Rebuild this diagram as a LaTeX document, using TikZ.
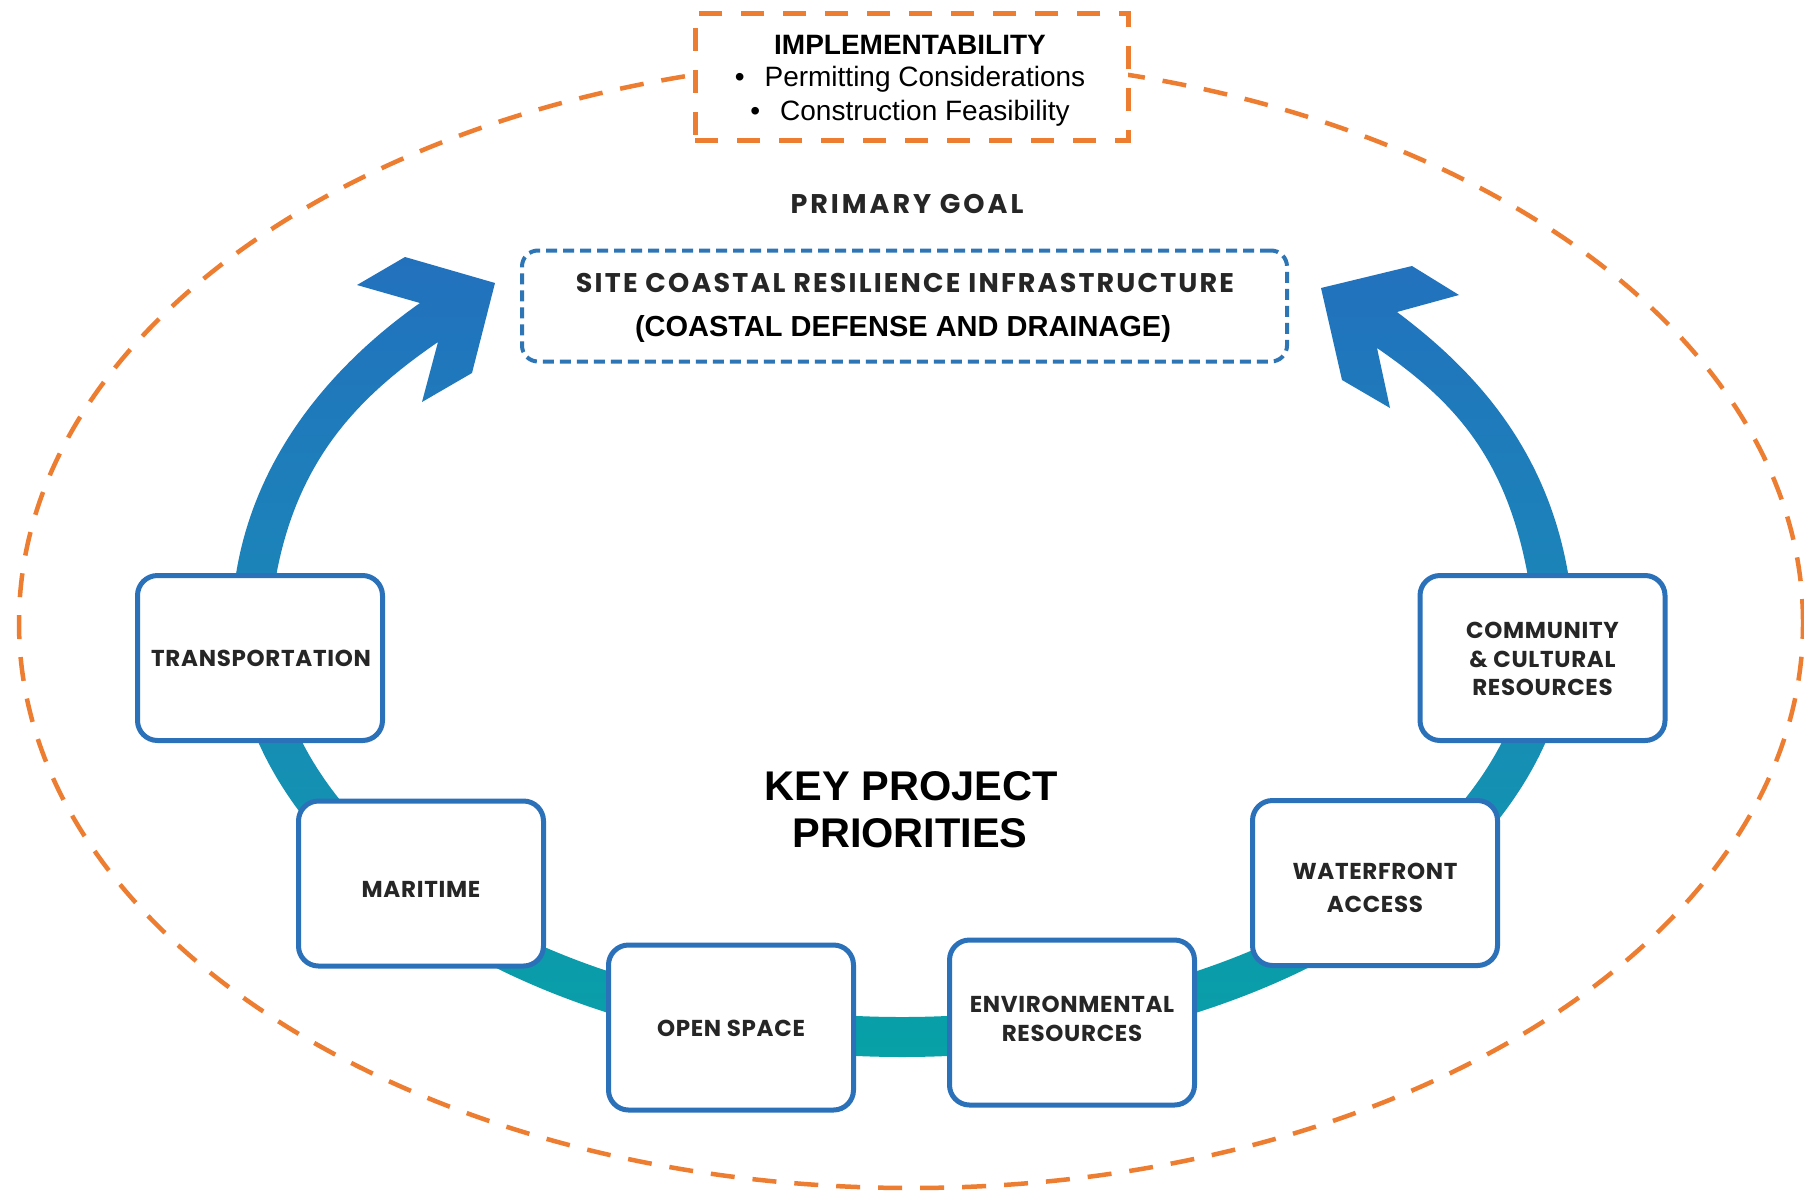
\documentclass[tikz,border=0pt]{standalone}
\usepackage{fontspec}
\setmainfont{Liberation Sans}
\newfontfamily\geo{Poppins}[LetterSpace=3]
\newfontfamily\geogoal{Poppins}[LetterSpace=11]
\newfontfamily\geosite{Poppins}[LetterSpace=8]
\definecolor{orng}{HTML}{ED7D31}
\definecolor{boxblue}{HTML}{2B71BA}
\definecolor{goalblue}{HTML}{2E75B6}
\definecolor{arrtop}{HTML}{2271BD}
\definecolor{arrmid}{HTML}{1A89B8}
\definecolor{ringbot}{HTML}{06A2A6}
\definecolor{txtdark}{HTML}{262626}
\begin{document}
\begin{tikzpicture}[x=1pt,y=-1pt,
  prio/.style={draw=boxblue, line width=5pt, fill=white, rounded corners=20pt,
    minimum width=245pt, minimum height=165pt, inner sep=0pt},
  priotext/.style={inner sep=0pt, align=center, text=txtdark,
    font=\geo\bfseries\fontsize{23}{29}\selectfont},
  orngdash/.style={draw=orng, line width=4.5pt, dash pattern=on 24pt off 18pt},
  basetext/.style={anchor=base, inner sep=0pt}]
\fill[white] (0,0) rectangle (1804,1192);
\useasboundingbox (0,0) rectangle (1804,1192);

% outer dashed ellipse
\draw[orngdash] (911,623) ellipse [x radius=892pt, y radius=565pt];

% implementability box
\node[draw=orng, line width=5pt, dash pattern=on 23pt off 19pt, fill=white,
  minimum width=433pt, minimum height=127pt, inner sep=0pt] (impl) at (911.5,76.5) {};
\node[basetext, font=\bfseries\fontsize{28}{30}\selectfont] (implt) at (910,54) {IMPLEMENTABILITY};
\node[basetext, font=\fontsize{28}{32}\selectfont] (impla) at (910,86) {•\hspace{20pt}Permitting Considerations};
\node[basetext, font=\fontsize{28}{32}\selectfont] (implb) at (910,120) {•\hspace{20pt}Construction Feasibility};

% primary goal
\node[basetext, text=txtdark, font=\geogoal\bfseries\fontsize{27}{30}\selectfont] (pg) at (907,213) {PRIMARY GOAL};
\node[draw=goalblue, line width=4pt, dash pattern=on 11pt off 6pt, rounded corners=16pt,
  minimum width=765pt, minimum height=111pt, inner sep=0pt] (goal) at (904.5,306) {};
\node[basetext, text=txtdark, font=\geosite\bfseries\fontsize{27}{30}\selectfont] (goala) at (905,292) {SITE COASTAL RESILIENCE INFRASTRUCTURE};
\node[basetext, font=\bfseries\fontsize{29}{32}\selectfont] (goalb) at (903,336.5) {(COASTAL DEFENSE AND DRAINAGE)};

% ring with arrows
\shade[top color=arrtop, bottom color=ringbot, middle color=arrmid]
  (420,303) .. controls (346,355) and (257,444) .. (236,574)
  arc[start angle=173.81, end angle=366.19, x radius=670pt, y radius=436pt]
  .. controls (1546,444) and (1469,366) .. (1397,312)
  -- (1459,295) -- (1412,266) -- (1321,288) -- (1342,380) -- (1390,408) -- (1377,348)
  .. controls (1451,399) and (1505,454) .. (1527.5,574)
  arc[start angle=366.82, end angle=173.18, x radius=630pt, y radius=396pt]
  .. controls (299,454) and (364,393) .. (438,342)
  -- (422,402) -- (472,373) -- (495,283) -- (405,257) -- (357,285) -- cycle;

% priority boxes
\node[prio] (trans) at (260,658) {};
\node[prio] (mari) at (421,883.5) {};
\node[prio] (open) at (731,1027.5) {};
\node[prio] (env) at (1072,1022.5) {};
\node[prio] (water) at (1375,883) {};
\node[prio] (comm) at (1542.5,658) {};

\node[priotext] (transtxt) at (261,658) {TRANSPORTATION};
\node[priotext] (maritxt) at (421,889) {MARITIME};
\node[priotext] (opentxt) at (731,1028) {OPEN SPACE};
\node[priotext] (envtxt) at (1072,1019) {ENVIRONMENTAL\\RESOURCES};
\node[priotext, font=\geo\bfseries\fontsize{23}{33}\selectfont] (watertxt) at (1375,888) {WATERFRONT\\ACCESS};
\node[priotext, font=\geo\bfseries\fontsize{23}{28.5}\selectfont] (commtxt) at (1542.5,659) {COMMUNITY\\\&~CULTURAL\\RESOURCES};

% centre title
\node[basetext, font=\bfseries\fontsize{41.5}{47}\selectfont] (keya) at (911,800) {KEY PROJECT};
\node[basetext, font=\bfseries\fontsize{41.5}{47}\selectfont] (keyb) at (910,847) {PRIORITIES};
\end{tikzpicture}
\end{document}
